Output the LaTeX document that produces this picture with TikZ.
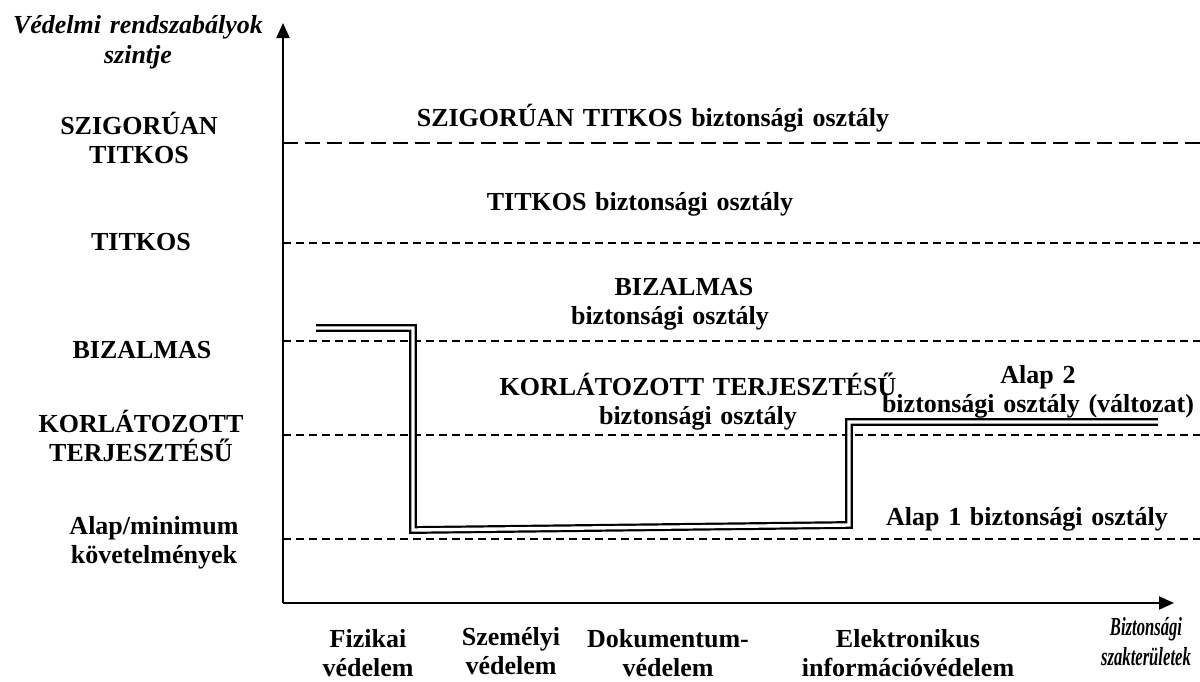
\documentclass[tikz,border=0pt]{standalone}
\usepackage{fontspec}
\usepackage{graphicx}
\setmainfont{Liberation Serif}
\usetikzlibrary{arrows.meta}
\begin{document}
\begin{tikzpicture}[x=0.5pt,y=-0.5pt,
  lbl/.style={font=\bfseries\fontsize{13pt}{14.5pt}\selectfont, align=center,
              text width=260pt, inner sep=0pt, anchor=base},
  ttl/.style={lbl, font=\bfseries\itshape\fontsize{13pt}{15pt}\selectfont},
  axis/.style={line width=1pt, -{Triangle[length=7.5pt,width=6.5pt]}},
  level/.style={line width=0.9pt, dash pattern=on 4pt off 2.5pt},
  toplevel/.style={line width=0.9pt, dash pattern=on 7.5pt off 3.5pt},
  profile/.style={line width=1.1pt, double, double distance=1.7pt, line join=miter}
]
\useasboundingbox (0,0) rectangle (1200,681);

% axes
\coordinate (O) at (283,603);
\coordinate (ytip) at (283,23);
\coordinate (xtip) at (1174,603);
\draw[axis] (O) -- (ytip);
\draw[axis] (O) -- (xtip);

% classification levels
\coordinate (st-l) at (283,143);  \coordinate (st-r) at (1200,143);
\coordinate (t-l)  at (283,243);  \coordinate (t-r)  at (1200,243);
\coordinate (b-l)  at (283,341);  \coordinate (b-r)  at (1200,341);
\coordinate (k-l)  at (283,435);  \coordinate (k-r)  at (1200,435);
\coordinate (a-l)  at (283,539);  \coordinate (a-r)  at (1200,539);
\draw[toplevel] (st-l) -- (st-r);
\draw[level] (t-l) -- (t-r);
\draw[level] (b-l) -- (b-r);
\draw[level] (k-l) -- (k-r);
\draw[level] (a-l) -- (a-r);

% protection profile across the domains
\coordinate (p1) at (316,328);
\coordinate (p2) at (413,328);
\coordinate (p3) at (413,530);
\coordinate (p4) at (849,525);
\coordinate (p5) at (849,422);
\coordinate (p6) at (1158,422);
\draw[profile] (p1) -- (p2) -- (p3) -- (p4) -- (p5) -- (p6);

% axis titles
\node[ttl] (ytitle) at (138,33) {Védelmi rendszabályok\\szintje};
\node[ttl, anchor=center] (xtitle) at (1146,644)
  {\scalebox{0.64}[1]{\begin{tabular}{@{}c@{}}Biztonsági\\szakterületek\end{tabular}}};

% level names
\node[lbl] (l-st) at (139,134) {SZIGORÚAN\\TITKOS};
\node[lbl] (l-t)  at (141,250) {TITKOS};
\node[lbl] (l-b)  at (142,358) {BIZALMAS};
\node[lbl] (l-k)  at (141,432) {KORLÁTOZOTT\\TERJESZTÉSŰ};
\node[lbl] (l-a)  at (154,534) {Alap/minimum\\követelmények};

% security classes
\node[lbl] (c-st) at (653,126) {SZIGORÚAN TITKOS biztonsági osztály};
\node[lbl] (c-t)  at (640,210) {TITKOS biztonsági osztály};
\node[lbl] (c-b)  at (670,295) {\hspace*{14pt}BIZALMAS\\biztonsági osztály};
\node[lbl] (c-k)  at (698,395) {KORLÁTOZOTT TERJESZTÉSŰ\\biztonsági osztály};
\node[lbl] (c-a2) at (1038,383) {Alap 2\\biztonsági osztály (változat)};
\node[lbl] (c-a1) at (1027,525) {Alap 1 biztonsági osztály};

% security domains
\node[lbl] (d-f)  at (368,647) {Fizikai\\védelem};
\node[lbl] (d-sz) at (511,645) {Személyi\\védelem};
\node[lbl] (d-d)  at (668,647) {Dokumentum-\\védelem};
\node[lbl] (d-e)  at (908,647) {Elektronikus\\információvédelem};
\end{tikzpicture}
\end{document}
